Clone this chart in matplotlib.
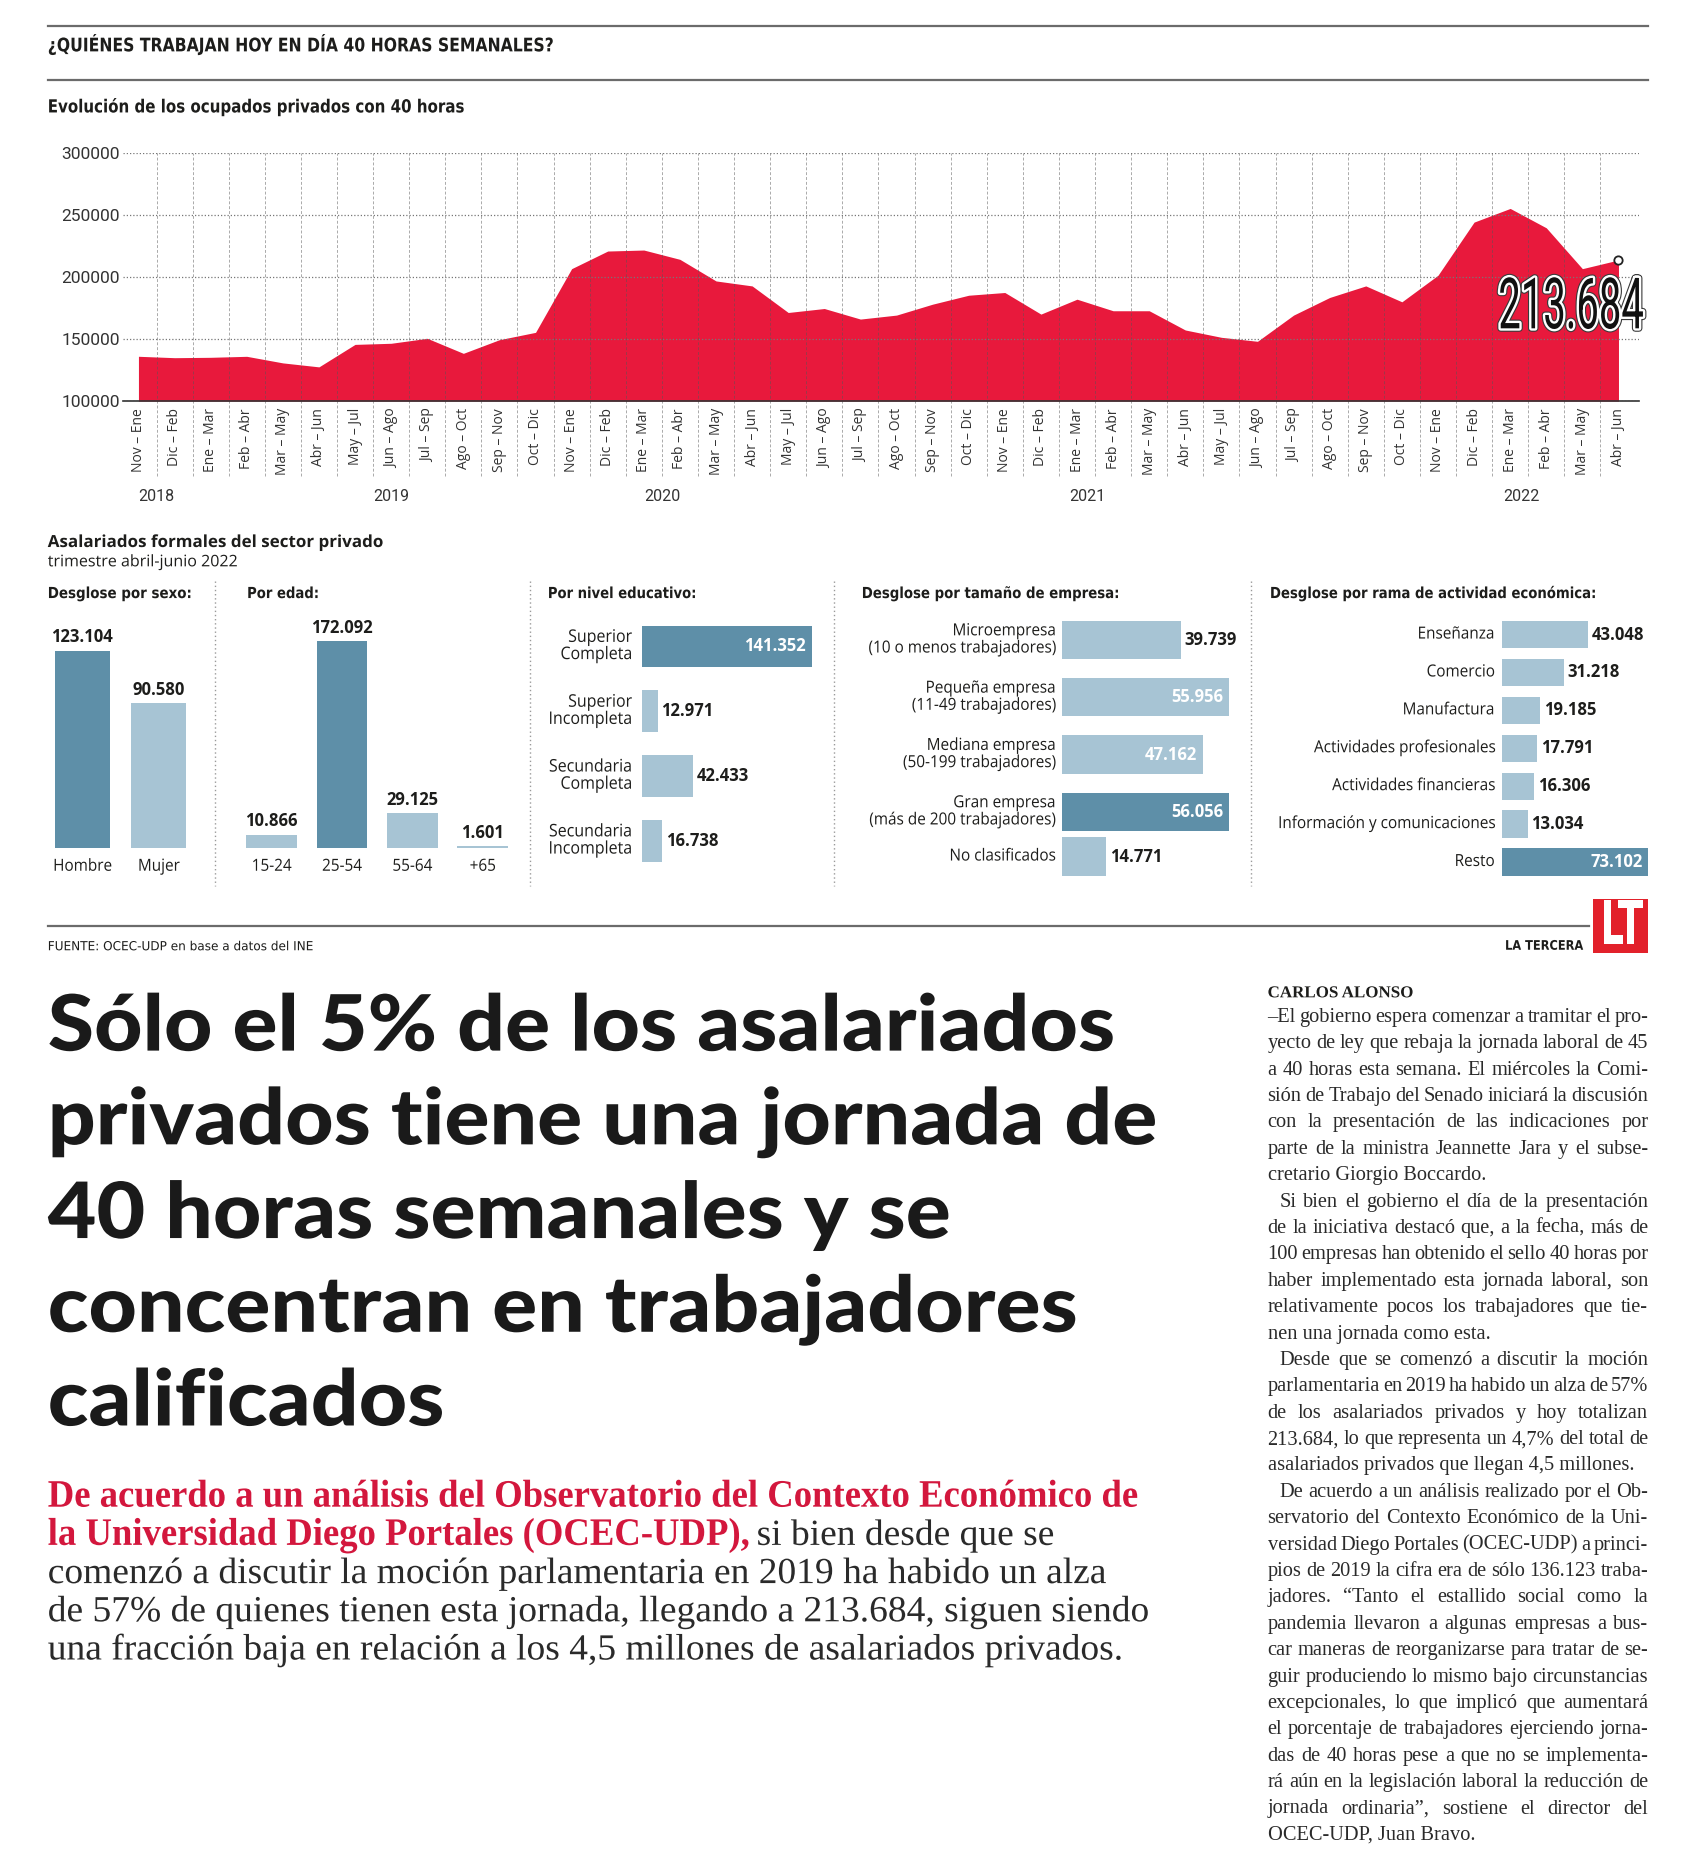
import matplotlib
matplotlib.use("Agg")
import matplotlib.pyplot as plt
import matplotlib.patheffects as pe
import numpy as np
from matplotlib.lines import Line2D
from matplotlib.patches import Rectangle
from matplotlib.transforms import Affine2D

# ---------------------------------------------------------------- data
MESES = ["Nov – Ene", "Dic – Feb", "Ene – Mar", "Feb – Abr", "Mar – May", "Abr – Jun",
         "May – Jul", "Jun – Ago", "Jul – Sep", "Ago – Oct", "Sep – Nov", "Oct – Dic"]
PERIODOS = MESES * 3 + MESES[:6]
OCUPADOS = [136123, 135000, 135300, 136100, 130800, 127600,
            145700, 146600, 150600, 138500, 149500, 155400,
            206700, 220900, 221700, 214200, 196800, 192800,
            171400, 174600, 166100, 169300, 178100, 185300,
            187500, 170100, 182100, 172800, 172800, 157300,
            151400, 148200, 169300, 183500, 192800, 180000,
            201400, 244200, 255200, 239600, 206700, 213684]
YEARS = ["2018", "2019", "2020", "2021", "2022"]
Y_TICKS = [100000, 150000, 200000, 250000, 300000]

SEXO = ["Hombre", "Mujer"]
SEXO_VAL = [123104, 90580]
EDAD = ["15-24", "25-54", "55-64", "+65"]
EDAD_VAL = [10866, 172092, 29125, 1601]
EDUC = ["Superior\nCompleta", "Superior\nIncompleta", "Secundaria\nCompleta", "Secundaria\nIncompleta"]
EDUC_VAL = [141352, 12971, 42433, 16738]
EMPRESA = ["Microempresa\n(10 o menos trabajadores)", "Pequeña empresa\n(11-49 trabajadores)",
           "Mediana empresa\n(50-199 trabajadores)", "Gran empresa\n(más de 200 trabajadores)",
           "No clasificados"]
EMPRESA_VAL = [39739, 55956, 47162, 56056, 14771]
RAMA = ["Enseñanza", "Comercio", "Manufactura", "Actividades profesionales",
        "Actividades financieras", "Información y comunicaciones", "Resto"]
RAMA_VAL = [43048, 31218, 19185, 17791, 16306, 13034, 73102]

HEADLINE = ["Sólo el 5% de los asalariados", "privados tiene una jornada de",
            "40 horas semanales y se", "concentran en trabajadores", "calificados"]
LEAD_RED = ["De acuerdo a un análisis del Observatorio del Contexto Económico de",
            "la Universidad Diego Portales (OCEC-UDP),"]
LEAD_BLACK = ["si bien desde que se",
              "comenzó a discutir la moción parlamentaria en 2019 ha habido un alza",
              "de 57% de quienes tienen esta jornada, llegando a 213.684, siguen siendo",
              "una fracción baja en relación a los 4,5 millones de asalariados privados."]
BODY = [
    ["–El gobierno espera comenzar a tramitar el pro-",
     "yecto de ley que rebaja la jornada laboral de 45",
     "a 40 horas esta semana. El miércoles la Comi-",
     "sión de Trabajo del Senado iniciará la discusión",
     "con la presentación de las indicaciones por",
     "parte de la ministra Jeannette Jara y el subse-",
     "cretario Giorgio Boccardo."],
    ["Si bien el gobierno el día de la presentación",
     "de la iniciativa destacó que, a la fecha, más de",
     "100 empresas han obtenido el sello 40 horas por",
     "haber implementado esta jornada laboral, son",
     "relativamente pocos los trabajadores que tie-",
     "nen una jornada como esta."],
    ["Desde que se comenzó a discutir la moción",
     "parlamentaria en 2019 ha habido un alza de 57%",
     "de los asalariados privados y hoy totalizan",
     "213.684, lo que representa un 4,7% del total de",
     "asalariados privados que llegan 4,5 millones."],
    ["De acuerdo a un análisis realizado por el Ob-",
     "servatorio del Contexto Económico de la Uni-",
     "versidad Diego Portales (OCEC-UDP) a princi-",
     "pios de 2019 la cifra era de sólo 136.123 traba-",
     "jadores. “Tanto el estallido social como la",
     "pandemia llevaron a algunas empresas a bus-",
     "car maneras de reorganizarse para tratar de se-",
     "guir produciendo lo mismo bajo circunstancias",
     "excepcionales, lo que implicó que aumentará",
     "el porcentaje de trabajadores ejerciendo jorna-",
     "das de 40 horas pese a que no se implementa-",
     "rá aún en la legislación laboral la reducción de",
     "jornada ordinaria”, sostiene el director del",
     "OCEC-UDP, Juan Bravo."],
]

# ---------------------------------------------------------------- style
RED = "#E8193C"
RED_TXT = "#D3173D"
DARK = "#5E8FA8"
LIGHT = "#A7C4D4"
INK = "#1d1d1b"
SANS = ["Open Sans", "DejaVu Sans"]
COND = ["DejaVu Sans"]
SERIF = ["Liberation Serif", "DejaVu Serif"]
HEAD = ["Lato", "DejaVu Sans"]
THIN = ["Roboto", "DejaVu Sans"]

# layout is measured on a 1431 x 1568 copy of the page
W, H = 1431, 1568
K = 1708 / W          # output pixels per layout pixel
PT = K * 72 / 100     # points per layout pixel


def fx(x):
    return x / W


def fy(y):
    return 1 - y / H


def box(x0, y0, x1, y1):
    return [fx(x0), fy(y1), fx(x1) - fx(x0), fy(y0) - fy(y1)]


def fmt(v):
    return f"{v:,}".replace(",", ".")


class Squeeze(pe.AbstractPathEffect):
    """Scale the drawn glyphs (sx across, sy up from the baseline) around an anchor."""

    def __init__(self, sx=1.0, anchor="left", sy=1.0, stroke=None, color=None):
        super().__init__()
        self.sx, self.sy, self.anchor = sx, sy, anchor
        self.stroke, self.color = stroke, color

    def draw_path(self, renderer, gc, tpath, affine, rgbFace=None):
        ext = affine.transform_path(tpath).get_extents()
        if self.anchor == "right":
            x0 = ext.x1
        elif self.anchor == "center":
            x0 = (ext.x0 + ext.x1) / 2
        else:
            x0 = ext.x0
        y0 = affine.transform((0, 0))[1]
        tr = affine + Affine2D().translate(-x0, -y0).scale(self.sx, self.sy).translate(x0, y0)
        gc0 = renderer.new_gc()
        gc0.copy_properties(gc)
        if self.stroke:
            gc0.set_linewidth(self.stroke)
            gc0.set_foreground(self.color)
            gc0.set_joinstyle("round")
            renderer.draw_path(gc0, tpath, tr, matplotlib.colors.to_rgba(self.color))
        else:
            renderer.draw_path(gc0, tpath, tr, rgbFace)
        gc0.restore()


fig = plt.figure(figsize=(17.08, 18.72), dpi=100)
fig.patch.set_facecolor("white")
renderer = fig.canvas.get_renderer()


def wid(t):
    return t.get_window_extent(renderer).width / K


def squeeze(t, sx):
    t.set_path_effects([Squeeze(sx, t.get_ha())])


def refit(t, r):
    """Make the text r times wider by size, then pull the glyphs back to their height."""
    t.set_fontsize(t.get_fontsize() * r)
    t.set_path_effects([Squeeze(1.0, t.get_ha(), sy=1 / r)])


def put(x, y, s, size, width=None, **kw):
    kw.setdefault("va", "center")
    kw.setdefault("color", INK)
    t = fig.text(fx(x), fy(y), s, fontsize=size, **kw)
    if width is not None:
        refit(t, width / wid(t))
    return t


def hline(x0, x1, y, **kw):
    fig.add_artist(Line2D([fx(x0), fx(x1)], [fy(y), fy(y)], transform=fig.transFigure, **kw))


def vline(x, y0, y1, **kw):
    fig.add_artist(Line2D([fx(x), fx(x)], [fy(y0), fy(y1)], transform=fig.transFigure, **kw))


# ---------------------------------------------------------------- header
hline(40, 1381, 22, color="#6b6b6b", lw=1.6)
hline(40, 1381, 67, color="#6b6b6b", lw=1.6)
put(40, 38, "¿QUIÉNES TRABAJAN HOY EN DÍA 40 HORAS SEMANALES?", 13.5, width=424,
    family=COND, weight="bold")
put(40, 90, "Evolución de los ocupados privados con 40 horas", 13, width=346,
    family=COND, weight="bold")

# ---------------------------------------------------------------- area chart
X_FIRST, X_LAST = 116, 1356
step = (X_LAST - X_FIRST) / (len(OCUPADOS) - 1)
ax = fig.add_axes(box(103, 128, 1373, 336))
xs = np.arange(len(OCUPADOS))
ax.fill_between(xs, Y_TICKS[0], OCUPADOS, color=RED, lw=0, zorder=1)
ax.set_xlim((103 - X_FIRST) / step, (1373 - X_FIRST) / step)
ax.set_ylim(Y_TICKS[0], Y_TICKS[-1])
ax.set_yticks(Y_TICKS)
ax.set_yticklabels([str(v) for v in Y_TICKS], family=THIN, fontsize=12.5, color="#333")
ax.set_xticks(xs)
ax.set_xticklabels(PERIODOS, rotation=90, family=SANS, fontsize=10, color="#333")
ax.tick_params(axis="x", length=0, pad=5)
ax.tick_params(axis="y", length=0, pad=2)
ax.grid(axis="y", color="#777", lw=0.9, ls=(0, (1, 1.6)))
ax.set_axisbelow(False)
for side in ("top", "left", "right"):
    ax.spines[side].set_visible(False)
ax.spines["bottom"].set_color("#333")
ax.spines["bottom"].set_linewidth(1.2)
ax.spines["bottom"].set_zorder(5)
for k in range(len(OCUPADOS) - 1):
    ax.axvline(k + 0.5, ymin=-0.30, ymax=1, clip_on=False, color="#555", lw=0.7,
               ls=(0, (3, 2)), alpha=0.5, zorder=3)
ax.plot(xs[-1], OCUPADOS[-1], "o", ms=6, mfc="white", mec="#222", mew=1.3,
        zorder=6, clip_on=False)
year_pos = [0.5, 7.0, 14.5, 26.3, 38.3]
for pos, year in zip(year_pos, YEARS):
    ax.annotate(year, (pos, 0), xycoords=("data", "axes fraction"),
                xytext=(0, -80 * PT), textcoords="offset points", ha="center", va="center",
                family=THIN, fontsize=11.5, color="#333", annotation_clip=False)

# callout with the last value
lab = put(1378, 275, fmt(OCUPADOS[-1]), 51, family=THIN, va="baseline", ha="right",
          color="#111")
sx = 122 / wid(lab)
lab.set_path_effects([Squeeze(sx, "right", stroke=5, color="#3a3a3a"),
                      Squeeze(sx, "right", stroke=3.4, color="white"),
                      Squeeze(sx, "right")])
lab.set_zorder(10)

# ---------------------------------------------------------------- panels
put(40, 454, "Asalariados formales del sector privado", 12, width=281,
    family=SANS, weight="bold")
put(40, 471, "trimestre abril-junio 2022", 11.5, width=160, family=SANS)
put(40, 498, "Desglose por sexo:", 11, width=120, family=COND, weight="bold")
put(207, 498, "Por edad:", 11, width=60, family=COND, weight="bold")
put(459, 498, "Por nivel educativo:", 11, width=124, family=COND, weight="bold")
put(722, 498, "Desglose por tamaño de empresa:", 11, width=215, family=COND, weight="bold")
put(1064, 498, "Desglose por rama de actividad económica:", 11, width=272,
    family=COND, weight="bold")
for xsep in (180, 444, 699, 1048):
    vline(xsep, 487, 742, color="#9a9a9a", lw=1, ls=(0, (1, 2)))


def vbar_panel(labels, values, x_first, x_step, y_top, y_base):
    n = len(values)
    pax = fig.add_axes(box(x_first - x_step / 2, y_top, x_first + (n - 0.5) * x_step, y_base))
    top = max(values)
    colors = [DARK if v == top else LIGHT for v in values]
    pax.bar(range(n), values, width=0.72, color=colors)
    pax.set_xlim(-0.5, n - 0.5)
    pax.set_ylim(0, top)
    pax.axis("off")
    for i, (name, v) in enumerate(zip(labels, values)):
        pax.annotate(fmt(v), (i, v), xytext=(0, 3), textcoords="offset points",
                     ha="center", va="bottom", fontsize=12, weight="bold", family=SANS,
                     color=INK, annotation_clip=False)
        t = pax.annotate(name, (i, 0), xytext=(0, -16 * PT), textcoords="offset points",
                         ha="center", va="center", fontsize=12, family=SANS, color=INK,
                         annotation_clip=False)
        squeeze(t, 0.92)


def hbar_panel(labels, values, rows, x0, x1, y_first, y_step, height, gap, size=12):
    last = max(rows)
    pax = fig.add_axes(box(x0, y_first - y_step / 2, x1, y_first + (last + 0.5) * y_step))
    top = max(values)
    colors = [DARK if v == top else LIGHT for v in values]
    pax.barh(rows, values, height=height, color=colors)
    pax.set_xlim(0, top)
    pax.set_ylim(last + 0.5, -0.5)
    pax.axis("off")
    for r, name, v in zip(rows, labels, values):
        t = pax.annotate(name, (0, r), xytext=(-gap * PT, 0), textcoords="offset points",
                         ha="right", va="center", fontsize=size, family=SANS, color=INK,
                         linespacing=1.1, annotation_clip=False)
        squeeze(t, 0.92)
        if v >= 0.8 * top:
            pax.annotate(fmt(v), (v, r), xytext=(-5 * PT, 0), textcoords="offset points",
                         ha="right", va="center", fontsize=12, weight="bold", family=SANS,
                         color="white", annotation_clip=False)
        else:
            pax.annotate(fmt(v), (v, r), xytext=(3 * PT, 0), textcoords="offset points",
                         ha="left", va="center", fontsize=12, weight="bold", family=SANS,
                         color=INK, annotation_clip=False)


vbar_panel(SEXO, SEXO_VAL, 69, 64, 545, 710)
vbar_panel(EDAD, EDAD_VAL, 227.5, 59, 537, 710)
hbar_panel(EDUC, EDUC_VAL, list(range(len(EDUC))), 538, 680, 541.5, 54.3, 0.645, 8, 12.5)
hbar_panel(EMPRESA, EMPRESA_VAL, [0, 1, 2, 3, 3.78], 890, 1030, 536, 48, 0.667, 6)
hbar_panel(RAMA, RAMA_VAL, list(range(len(RAMA))), 1258, 1381, 531.5, 31.75, 0.72, 6)

# ---------------------------------------------------------------- footer of graphic
hline(40, 1331, 776, color="#6b6b6b", lw=1.6)
put(40, 793, "FUENTE: OCEC-UDP en base a datos del INE", 9, width=223, family=COND)
put(1326, 793, "LA TERCERA", 9.5, width=66, family=COND, weight="bold", ha="right")
fig.add_artist(Rectangle((fx(1335), fy(798)), fx(1381) - fx(1335), fy(753) - fy(798),
                         transform=fig.transFigure, color="#E2212B", lw=0))
logo = put(1358, 777, "LT", 44, family=COND, weight="bold", color="white", ha="center")
squeeze(logo, 36 / wid(logo))

# ---------------------------------------------------------------- headline
heads = [put(40, 880 + 78.5 * k, line, 56, family=HEAD, weight="black", va="baseline",
             color="#1a1a1a") for k, line in enumerate(HEADLINE)]
r = 930 / wid(heads[1])
for t in heads:
    refit(t, r)

# ---------------------------------------------------------------- lead
reds = [put(40, 1262 + 32 * k, line, 28, family=SERIF, weight="bold", va="baseline",
            color=RED_TXT) for k, line in enumerate(LEAD_RED)]
r = 915 / wid(reds[0])
for t in reds:
    refit(t, r)
x_after = 40 + wid(reds[1]) + 7
blacks = [put(x_after, 1294, LEAD_BLACK[0], 26.5, family=SERIF, va="baseline",
              color="#2a2a2a")]
blacks += [put(40, 1326 + 32 * k, line, 26.5, family=SERIF, va="baseline", color="#2a2a2a")
           for k, line in enumerate(LEAD_BLACK[1:])]
r = 922 / wid(blacks[2])
for t in blacks:
    refit(t, r)

# ---------------------------------------------------------------- article column
put(1062, 832, "CARLOS ALONSO", 12, width=122, family=SERIF, weight="bold")

COL_X0, COL_X1, INDENT = 1062, 1381, 10
lines = []
for p, para in enumerate(BODY):
    for j, line in enumerate(para):
        lines.append((line, INDENT if (j == 0 and p > 0) else 0, j < len(para) - 1))


def word_widths(words, size):
    out = []
    for w in words:
        t = fig.text(0, 0, w, fontsize=size, family=SERIF)
        out.append(wid(t))
        t.remove()
    return out


base = 10
need = []
for line, ind, just in lines:
    if just:
        words = line.split(" ")
        need.append((COL_X1 - COL_X0 - ind - (len(words) - 1) * 2.5) / sum(word_widths(words, base)))
body_size = base * min(need)

for k, (line, ind, just) in enumerate(lines):
    y = 856 + 22.1 * k
    if not just:
        put(COL_X0 + ind, y, line, body_size, family=SERIF, va="baseline", color="#2a2a2a")
        continue
    words = line.split(" ")
    ww = word_widths(words, body_size)
    gap = (COL_X1 - COL_X0 - ind - sum(ww)) / (len(words) - 1)
    x = COL_X0 + ind
    for w, wv in zip(words, ww):
        put(x, y, w, body_size, family=SERIF, va="baseline", color="#2a2a2a")
        x += wv + gap

fig.savefig("out.png", dpi=100, facecolor="white")
